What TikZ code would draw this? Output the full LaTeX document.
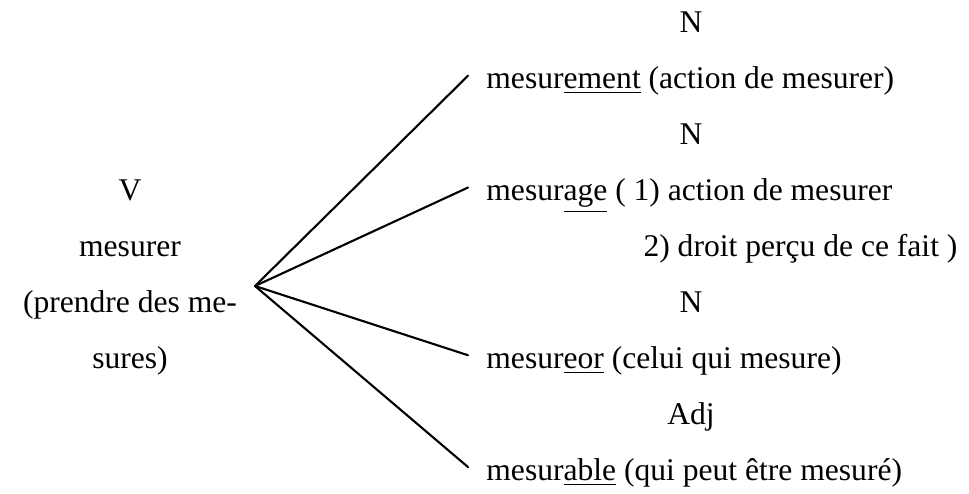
\documentclass[tikz,border=0pt]{standalone}
\usepackage{fontspec}
\setmainfont{Liberation Serif}
\begin{document}
\begin{tikzpicture}[
  x=0.38pt, y=-0.38pt,
  font=\fontsize{12}{14}\selectfont,
  verb/.style   = {anchor=base, inner sep=0pt},
  cat/.style    = {anchor=base, inner sep=0pt},
  word/.style   = {anchor=base west, inner xsep=6.8pt, inner ysep=0pt},
  gloss/.style  = {anchor=base west, inner sep=0pt},
  branch/.style = {line width=0.8pt, line cap=round},
]
\useasboundingbox (0,0) rectangle (969,494);

\def\cl{130}    % column x: base verb
\def\cc{691}    % column x: word classes
\def\cw{468}    % column x: derived words (where branches end)
\def\ra{33}     % row y (baselines)
\def\rb{88.9}
\def\rc{144.8}
\def\rd{200.7}
\def\re{256.6}
\def\rf{312.5}
\def\rg{368.4}
\def\rh{424.3}
\def\ri{480.2}

% ---- base verb -------------------------------------------------------------
\node[verb] (vcat)  at (\cl, \rd) {V};
\node[verb] (verb)  at (\cl, \re) {mesurer};
\node[verb] (gla)   at (\cl, \rf) {(prendre des me-};
\node[verb] (glb)   at (\cl, \rg) {sures)};
\coordinate (hub) at (255, 286);

% ---- word classes ----------------------------------------------------------
\node[cat] (ca) at (\cc, \ra) {N};
\node[cat] (cb) at (\cc, \rc) {N};
\node[cat] (cc) at (\cc, \rf) {N};
\node[cat] (cd) at (\cc, \rh) {Adj};

% ---- derived words ---------------------------------------------------------
\node[word] (wa) at (\cw, \rb) {mesur\underline{ement} (action de mesurer)};
\node[word] (wb) at (\cw, \rd) {mesur\underline{age} ( 1) action de mesurer};
\node[gloss] (wbb) at (643, \re) {2) droit perçu de ce fait )};
\node[word] (wc) at (\cw, \rg) {mesur\underline{eor} (celui qui mesure)};
\node[word] (wd) at (\cw, \ri) {mesur\underline{able} (qui peut être mesuré)};

% ---- branches --------------------------------------------------------------
\foreach \w in {wa, wb, wc, wd}
  \draw[branch] (hub) -- ([yshift=5pt]\w.base west);

\end{tikzpicture}
\end{document}
